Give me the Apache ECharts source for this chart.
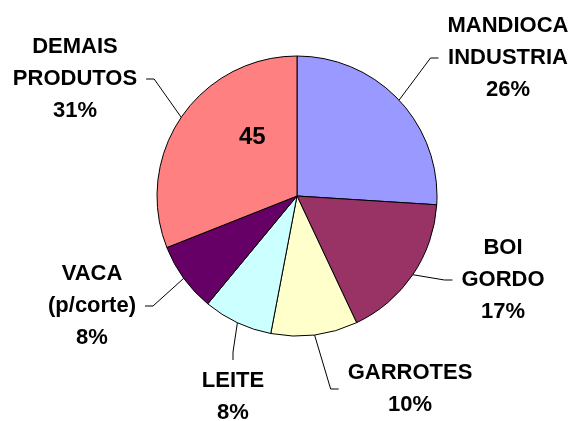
<!DOCTYPE html>
<html>
<head>
<meta charset="utf-8">
<title>Pie</title>
<style>
html,body{margin:0;padding:0;background:#fff;width:100%;height:100%;}
#main{width:575px;height:421px;}
</style>
</head>
<body>
<div id="main"></div>
<script src="https://cdn.jsdelivr.net/npm/echarts@6/dist/echarts.min.js"></script>
<script>
// data
var categories = ['MANDIOCA\nINDUSTRIA', 'BOI\nGORDO', 'GARROTES', 'LEITE', 'VACA\n(p/corte)', 'DEMAIS\nPRODUTOS'];
var values = [26, 17, 10, 8, 8, 31];
var colors = ['#9999FF', '#993366', '#FFFFCC', '#CCFFFF', '#660066', '#FF8080'];
var innerNote = '45';

// where each label block sits (centre, page px)
var labelPos = [[508, 58], [503, 280], [410, 389], [233, 397], [92, 306], [75, 79]];

var chart = echarts.init(document.getElementById('main'));

var pieData = [];
for (var i = 0; i < categories.length; i++) {
  pieData.push({ name: categories[i], value: values[i], itemStyle: { color: colors[i] } });
}

chart.setOption({
  backgroundColor: '#fff',
  animation: false,
  graphic: [{
    type: 'text',
    z: 100,
    left: 239,
    top: 125,
    style: { text: innerNote, font: 'bold 24px "Liberation Sans", Arial', fill: '#000' }
  }],
  series: [{
    type: 'pie',
    // wide box so the default layout never truncates the labels
    left: -150,
    top: 0,
    width: 875,
    height: 421,
    center: [447, 196],
    radius: 140,
    startAngle: 90,
    clockwise: true,
    data: pieData,
    itemStyle: { borderColor: '#000', borderWidth: 1 },
    label: {
      show: true,
      position: 'outside',
      color: '#000',
      fontFamily: '"Liberation Sans", Arial',
      fontWeight: 'bold',
      fontSize: 22,
      lineHeight: 32,
      padding: [5, 9],
      formatter: function (p) { return p.name + '\n' + Math.round(p.percent) + '%'; }
    },
    labelLine: {
      show: true,
      length: 20,
      length2: 8,
      smooth: false,
      lineStyle: { color: '#000', width: 1 }
    },
    labelLayout: function (p) {
      var pos = labelPos[p.dataIndex];
      return { x: pos[0], y: pos[1], align: 'center', verticalAlign: 'middle' };
    }
  }]
});
</script>
</body>
</html>
